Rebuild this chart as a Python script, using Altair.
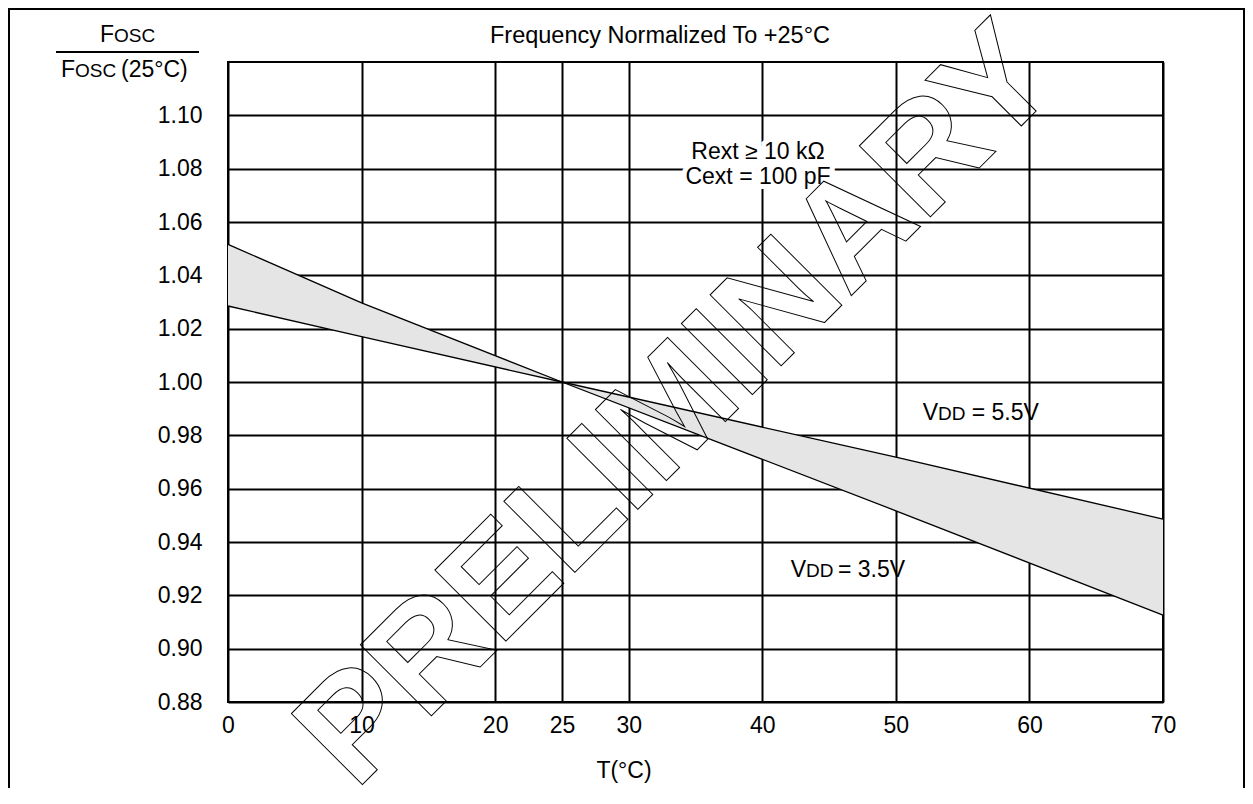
import altair as alt
import pandas as pd

# ---- data ----
T = [0, 10, 25, 50, 70]
V35 = [1.0516, 1.0297, 1.000, 0.9517, 0.9126]   # VDD = 3.5V
V55 = [1.0285, 1.0170, 1.000, 0.9718, 0.9486]   # VDD = 5.5V

x_ticks = [0, 10, 20, 25, 30, 40, 50, 60, 70]
y_ticks = [0.88, 0.90, 0.92, 0.94, 0.96, 0.98, 1.00, 1.02, 1.04, 1.06, 1.08, 1.10]

title_text = "Frequency Normalized To +25°C"
x_title = "T(°C)"
cond_lines = ["Rext ≥ 10 kΩ", "Cext = 100 pF"]
watermark = "PRELIMINARY"

FONT = "Liberation Sans"
W, H = 935, 640

wide = pd.DataFrame({"T": T, "V35": V35, "V55": V55})
long = pd.concat([
    pd.DataFrame({"T": T, "v": V35, "s": "3.5V"}),
    pd.DataFrame({"T": T, "v": V55, "s": "5.5V"}),
])

xs = alt.Scale(domain=[0, 70], nice=False, zero=False)
ys = alt.Scale(domain=[0.88, 1.12], nice=False, zero=False)

x_axis = alt.Axis(values=x_ticks, grid=True, ticks=False, domain=False, title=None,
                  labelFont=FONT, labelFontSize=23, labelColor="black", labelPadding=12,
                  labelFlush=False, labelOverlap=False, gridColor="black", gridWidth=2, gridOpacity=1)
y_axis = alt.Axis(values=y_ticks, format=".2f", grid=True, ticks=False, domain=False, title=None,
                  labelFont=FONT, labelFontSize=23, labelColor="black", labelPadding=26,
                  labelOverlap=False, gridColor="black", gridWidth=2, gridOpacity=1)

area = alt.Chart(wide).mark_area(color="#e5e5e5", opacity=1).encode(
    x=alt.X("T:Q", scale=xs, axis=x_axis),
    y=alt.Y("V35:Q", scale=ys, axis=y_axis),
    y2="V55:Q",
)
lines = alt.Chart(long).mark_line(color="black", strokeWidth=1.3).encode(
    x=alt.X("T:Q", scale=xs),
    y=alt.Y("v:Q", scale=ys),
    detail="s:N",
)

one = pd.DataFrame({"k": [0]})
layers = [area, lines]

def txt(text, px, py, size, align="left", **kw):
    return alt.Chart(one).mark_text(text=text, font=FONT, fontSize=size, align=align,
                                    baseline="alphabetic", color="black", **kw).encode(
        x=alt.value(px), y=alt.value(py))

# condition annotation with white halo
for t, py in zip(cond_lines, [97, 122]):
    layers.append(txt(t, 530, py, 23, align="center", stroke="white", strokeWidth=10))
for t, py in zip(cond_lines, [97, 122]):
    layers.append(txt(t, 530, py, 23, align="center"))

# VDD labels with small-caps "DD"
layers += [
    txt("V", 694.7, 358, 23), txt("DD", 710, 358, 19), txt("= 5.5V", 743.7, 358, 23),
    txt("V", 562.7, 514.7, 23), txt("DD", 578, 514.7, 19), txt("= 3.5V", 610, 514.7, 23),
]

# title and axis titles
layers += [
    txt(title_text, 432, -19, 23.5, align="center"),
    txt(x_title, 396, 716, 23, align="center"),
    txt("F", -128, -20, 23), txt("OSC", -114, -20, 19),
    txt("F", -167, 15, 23), txt("OSC", -153, 15, 19), txt("(25°C)", -107, 15, 23),
]
layers.append(alt.Chart(one).mark_rule(color="black", strokeWidth=2).encode(
    x=alt.value(-172), x2=alt.value(-29), y=alt.value(-10)))

# outer frame
layers.append(alt.Chart(one).mark_rect(fillOpacity=0, stroke="black", strokeWidth=2).encode(
    x=alt.value(-219), x2=alt.value(1016), y=alt.value(-53), y2=alt.value(760)))

# watermark
layers.append(alt.Chart(one).mark_text(
    text=watermark, font=FONT, fontWeight="bold", fontSize=146, angle=315,
    align="center", baseline="alphabetic", fillOpacity=0, stroke="black", strokeWidth=1
).encode(x=alt.value(481.3), y=alt.value(375.8)))

chart = alt.layer(*layers).properties(
    width=W, height=H,
    autosize=alt.AutoSizeParams(type="none"),
    padding={"left": 220, "top": 54, "right": 82, "bottom": 86},
).configure_view(stroke="black", strokeWidth=2)

chart.save("out.html", embed_options={"renderer": "svg", "actions": False})
